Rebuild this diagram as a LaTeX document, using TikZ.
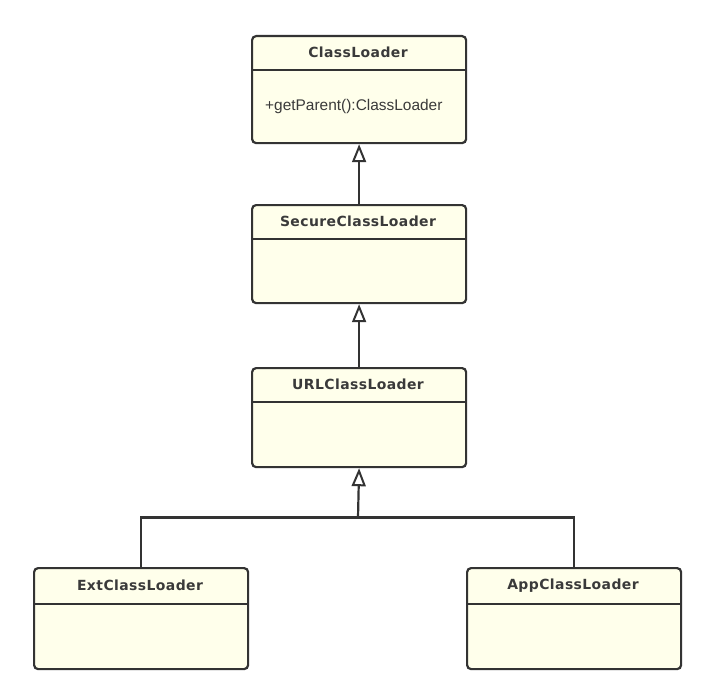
\documentclass[tikz,border=0pt]{standalone}
\usepackage{fontspec}
\setmainfont{Liberation Sans}
\newfontfamily\titlefont[LetterSpace=3]{DejaVu Sans}
\usetikzlibrary{arrows.meta}
\definecolor{boxfill}{HTML}{FFFFEB}
\definecolor{ink}{HTML}{333333}
\definecolor{txt}{HTML}{3A3A3A}
\begin{document}
\begin{tikzpicture}[x=1bp,y=-1bp,
  classbox/.style={draw=ink, fill=boxfill, line width=2.2bp, rounded corners=4bp,
    minimum width=214bp, inner sep=0pt, anchor=north west},
  title/.style={text=txt, font=\titlefont\bfseries\fontsize{14}{16}\selectfont, inner sep=0pt},
  member/.style={text=txt, font=\fontsize{15.5}{17}\selectfont, inner sep=0pt, anchor=west},
  divider/.style={draw=ink, line width=2bp},
  link/.style={draw=ink, line width=2.2bp},
  inherit/.style={link, -{Triangle[open, length=18bp, width=14bp, line width=2bp]}}]
\useasboundingbox (0,0) rectangle (711,690);
\fill[white] (0,0) rectangle (711,690);

% boxes
\node[classbox, minimum height=107bp] (cl) at (251,35) {};
\node[classbox, minimum height=98bp] (scl) at (251,204) {};
\node[classbox, minimum height=99bp] (ucl) at (251,367) {};
\node[classbox, minimum height=101bp] (ecl) at (33,567) {};
\node[classbox, minimum height=101bp] (acl) at (466,567) {};

% dividers
\draw[divider] (251,70) -- (465,70);
\draw[divider] (251,239) -- (465,239);
\draw[divider] (251,402) -- (465,402);
\draw[divider] (33,604) -- (247,604);
\draw[divider] (466,604) -- (680,604);

% titles
\node[title] (tcl) at (358,52.5) {ClassLoader};
\node[title] (tscl) at (358,221.5) {SecureClassLoader};
\node[title] (tucl) at (358,384.5) {URLClassLoader};
\node[title] (tecl) at (140,585.5) {ExtClassLoader};
\node[title] (tacl) at (573,585.5) {AppClassLoader};

% members
\node[member] (m1) at (265,106.5) {+getParent():ClassLoader};

% connectors
\draw[inherit] (scl.north) -- (cl.south);
\draw[inherit] (ucl.north) -- (scl.south);
\coordinate (join) at (358,517.5);
\draw[link] (ecl.north) |- (join) -| (acl.north);
\draw[inherit] (join) -- (ucl.south);
\end{tikzpicture}
\end{document}
